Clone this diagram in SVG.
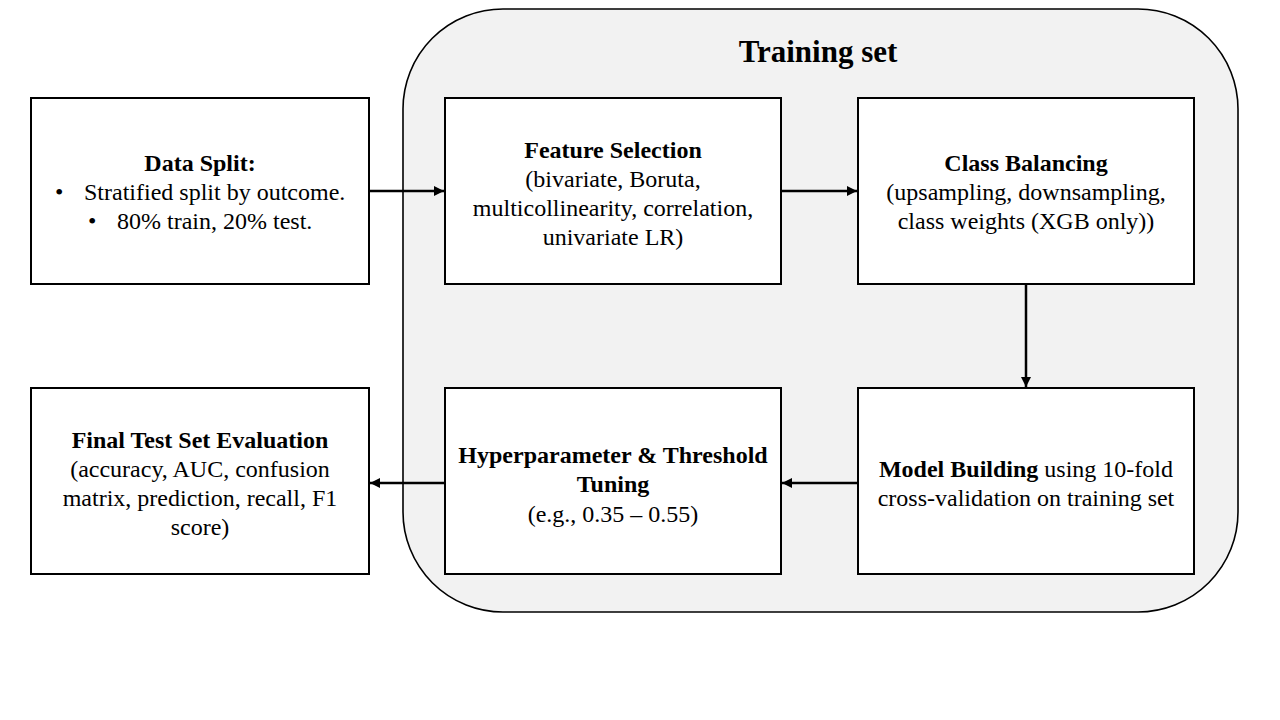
<svg xmlns="http://www.w3.org/2000/svg" width="1280" height="720" viewBox="0 0 1280 720">
<style>
.box{fill:#fff;stroke:#000;stroke-width:2}
.t{font-family:"Liberation Serif","Times New Roman",serif;font-size:24px;fill:#000;text-anchor:middle}
.b{font-weight:bold}
.c{stroke:#000;stroke-width:2.5;fill:none}
</style>
<defs>
<marker id="ah" viewBox="0 0 10 10" refX="10" refY="5" markerWidth="4" markerHeight="4" orient="auto" markerUnits="strokeWidth">
<path d="M0,0 L10,5 L0,10 z" fill="#000"/>
</marker>
</defs>
<rect width="1280" height="720" fill="#fff"/>
<g id="training-set">
<rect x="403" y="9" width="835" height="603" rx="100" ry="100" fill="#f2f2f2" stroke="#000" stroke-width="1.6"/>
<text class="t b" x="818" y="62" style="font-size:31px">Training set</text>
</g>
<g id="connectors">
<line class="c" x1="369" y1="191" x2="444" y2="191" marker-end="url(#ah)"/>
<line class="c" x1="781" y1="191" x2="857" y2="191" marker-end="url(#ah)"/>
<line class="c" x1="1026" y1="284" x2="1026" y2="387" marker-end="url(#ah)"/>
<line class="c" x1="858" y1="483" x2="782" y2="483" marker-end="url(#ah)"/>
<line class="c" x1="445" y1="483" x2="370" y2="483" marker-end="url(#ah)"/>
</g>
<g id="data-split">
<rect class="box" x="31" y="98" width="338" height="186"/>
<text class="t b" x="200" y="171">Data Split:</text>
<text class="t" x="55" y="200" style="text-anchor:start">•</text>
<text class="t" x="84" y="200" style="text-anchor:start">Stratified split by outcome.</text>
<text class="t" x="88" y="229" style="text-anchor:start">•</text>
<text class="t" x="117" y="229" style="text-anchor:start">80% train, 20% test.</text>
</g>
<g id="feature-selection">
<rect class="box" x="445" y="98" width="336" height="186"/>
<text class="t b" x="613" y="158">Feature Selection</text>
<text class="t" x="613" y="187">(bivariate, Boruta,</text>
<text class="t" x="613" y="216">multicollinearity, correlation,</text>
<text class="t" x="613" y="245">univariate LR)</text>
</g>
<g id="class-balancing">
<rect class="box" x="858" y="98" width="336" height="186"/>
<text class="t b" x="1026" y="171">Class Balancing</text>
<text class="t" x="1026" y="200">(upsampling, downsampling,</text>
<text class="t" x="1026" y="229">class weights (XGB only))</text>
</g>
<g id="model-building">
<rect class="box" x="858" y="388" width="336" height="186"/>
<text class="t" x="1026" y="477"><tspan class="b">Model Building</tspan> using 10-fold</text>
<text class="t" x="1026" y="506">cross-validation on training set</text>
</g>
<g id="hyperparameter-tuning">
<rect class="box" x="445" y="388" width="336" height="186"/>
<text class="t b" x="613" y="463">Hyperparameter &amp; Threshold</text>
<text class="t b" x="613" y="492">Tuning</text>
<text class="t" x="613" y="522">(e.g., 0.35 – 0.55)</text>
</g>
<g id="final-evaluation">
<rect class="box" x="31" y="388" width="338" height="186"/>
<text class="t b" x="200" y="448">Final Test Set Evaluation</text>
<text class="t" x="200" y="477">(accuracy, AUC, confusion</text>
<text class="t" x="200" y="506">matrix, prediction, recall, F1</text>
<text class="t" x="200" y="535">score)</text>
</g>
</svg>
